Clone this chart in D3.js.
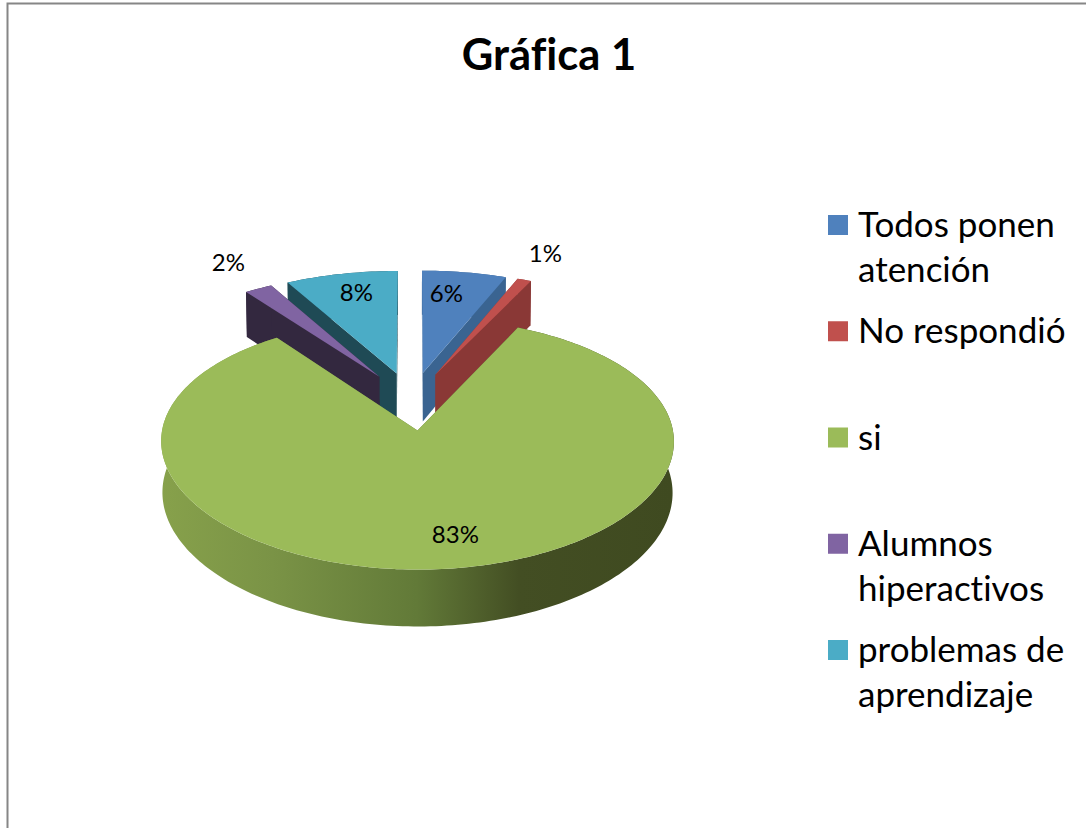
<!DOCTYPE html>
<html>
<head>
<meta charset="utf-8">
<script src="https://cdn.jsdelivr.net/npm/d3@7"></script>
<style>
    body { margin: 0; background: #fff; }
    svg { display: block; }
    text { font-family: Lato, "Open Sans", sans-serif; fill: #000; font-variant-ligatures: none; }
</style>
</head>
<body>
<div id="chart"></div>
<script>
// values
let titleText = "Gráfica 1";
let categories = ["Todos ponen atención", "No respondió", "si", "Alumnos hiperactivos", "problemas de aprendizaje"];
let percents = [6, 1, 83, 2, 8];
let topColors = ["#4f81bd", "#c0504d", "#9bbb59", "#8064a2", "#4bacc6"];
let sideColors = ["#3a6491", "#8a3836", "#6d8a3f", "#33283f", "#1f4a55"];
// px shift of each % label from the middle of its slice rim
let labelShift = [[-18, 21], [21, -26], [11, -34], [-30, -26], [15, 19]];
// back slices first, green goes last because it covers everything
let drawOrder = [4, 3, 0, 1, 2];

let width = 1086, height = 828;

// perspective of the pie plane
let view = {x0: 411.6, y0: 400.8, A: 250.1, B: 118.3, sx: 0.085, sy: 0.103, depth: 49.6, shrink: 0.995};
let explode = 0.245;

let svg = d3.select("#chart").append("svg")
    .attr("width", width)
    .attr("height", height);

// frame, only top and left are in the crop
svg.append("path")
    .attr("d", "M7.5," + height + "V3.5H" + width)
    .attr("fill", "none")
    .attr("stroke", "#868686")
    .attr("stroke-width", 2);

svg.append("text")
    .attr("x", 549)
    .attr("y", 70)
    .attr("text-anchor", "middle")
    .style("font-size", "43.5px")
    .style("font-weight", "bold")
    .text(titleText);

let defs = svg.append("defs");
let sideGradient = defs.append("linearGradient")
    .attr("id", "greenSide")
    .attr("gradientUnits", "userSpaceOnUse")
    .attr("x1", 160).attr("x2", 673).attr("y1", 0).attr("y2", 0);
[[0, "#87a14b"], [0.22, "#7a9346"], [0.5, "#627a38"], [0.7, "#434e23"], [1, "#3f4a20"]].forEach(s => {
    sideGradient.append("stop").attr("offset", s[0]).attr("stop-color", s[1]);
});

let pie = d3.pie().sort(null).value(d => d);
let slices = pie(percents);

function project(X, Y, lower) {
    let wx = 1 + view.sx * Y;
    let wy = 1 + view.sy * Y;
    let x = view.A * X / wx;
    let y = view.y0 - view.B * Y / wy;
    if (lower) {
        x = x * view.shrink;
        y = y + view.depth / wy;
    }
    return [view.x0 + x, y];
}

// point of a slice at radius r and angle a, with the slice pushed out along its middle
function slicePoint(d, r, a, lower) {
    let mid = (d.startAngle + d.endAngle) / 2;
    let X = explode * Math.sin(mid) + r * Math.sin(a);
    let Y = explode * Math.cos(mid) + r * Math.cos(a);
    return project(X, Y, lower);
}

function rimAngles(d) {
    let n = Math.max(4, Math.ceil((d.endAngle - d.startAngle) / 0.02));
    return d3.range(n + 1).map(i => d.startAngle + (d.endAngle - d.startAngle) * i / n);
}

let line = d3.line().curve(d3.curveLinearClosed);

let pieGroup = svg.append("g").attr("class", "pie");

drawOrder.forEach(i => {
    let d = slices[i];
    let g = pieGroup.append("g");
    let angles = rimAngles(d);
    let sideFill = i === 2 ? "url(#greenSide)" : sideColors[i];

    // rim wall
    let wall = angles.map(a => slicePoint(d, 1, a, false))
        .concat(angles.slice().reverse().map(a => slicePoint(d, 1, a, true)));
    g.append("path").attr("d", line(wall)).attr("fill", sideFill);

    // the two cut faces
    [d.startAngle, d.endAngle].forEach(a => {
        let face = [slicePoint(d, 0, a, false), slicePoint(d, 1, a, false),
            slicePoint(d, 1, a, true), slicePoint(d, 0, a, true)];
        g.append("path").attr("d", line(face)).attr("fill", sideFill);
    });

    // top
    let top = [slicePoint(d, 0, d.startAngle, false)].concat(angles.map(a => slicePoint(d, 1, a, false)));
    g.append("path").attr("d", line(top)).attr("fill", topColors[i]);
});

// % labels
slices.forEach((d, i) => {
    let mid = (d.startAngle + d.endAngle) / 2;
    let p = slicePoint(d, 1, mid, false);
    svg.append("text")
        .attr("x", p[0] + labelShift[i][0])
        .attr("y", p[1] + labelShift[i][1])
        .attr("dy", "0.35em")
        .attr("text-anchor", "middle")
        .style("font-size", "24px")
        .text(percents[i] + "%");
});

// legend
let legendY = d3.scaleLinear().domain([0, categories.length - 1]).range([225, 650]);
let legend = svg.append("g").attr("class", "legend");

categories.forEach((name, i) => {
    let cy = legendY(i);
    legend.append("rect")
        .attr("x", 828)
        .attr("y", cy - 10)
        .attr("width", 20)
        .attr("height", 20)
        .attr("fill", topColors[i]);

    // greedy wrap at the legend width
    let label = legend.append("text")
        .attr("x", 858)
        .attr("y", cy + 12)
        .style("font-size", "35px");
    let current = [];
    let tspan = label.append("tspan").attr("x", 858);
    name.split(" ").forEach(word => {
        current.push(word);
        tspan.text(current.join(" "));
        if (tspan.node().getComputedTextLength() > 215 && current.length > 1) {
            current.pop();
            tspan.text(current.join(" "));
            current = [word];
            tspan = label.append("tspan").attr("x", 858).attr("dy", 45).text(word);
        }
    });
});
</script>
</body>
</html>
